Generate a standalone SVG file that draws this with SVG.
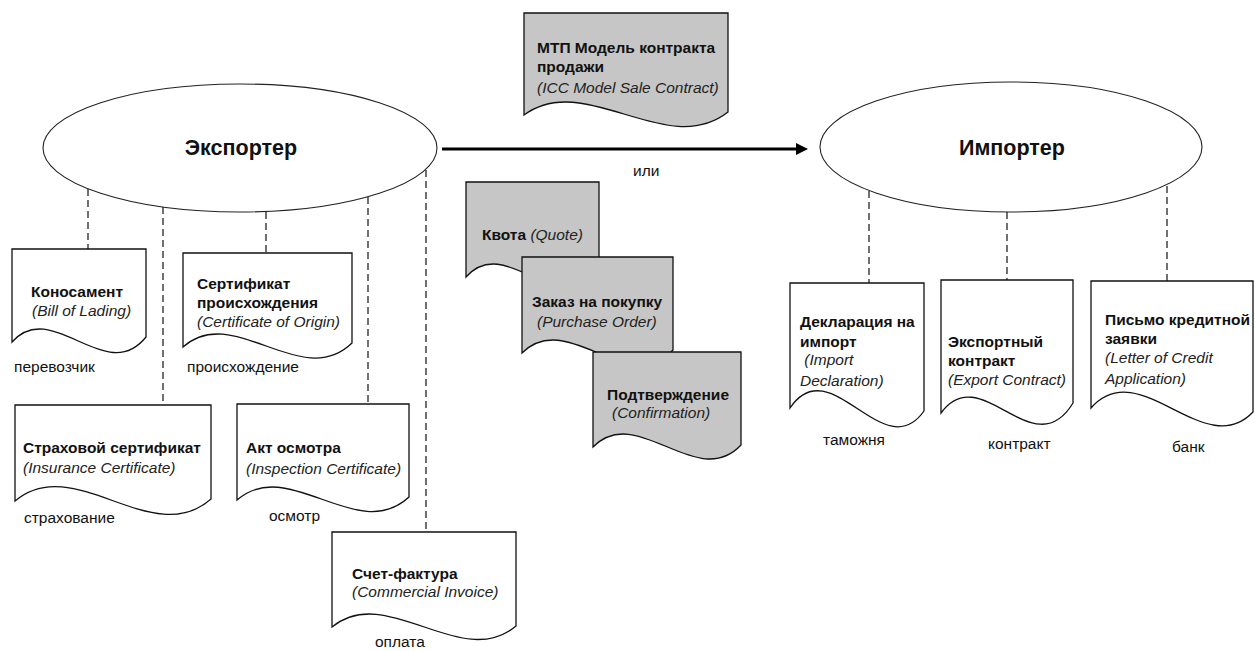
<svg xmlns="http://www.w3.org/2000/svg" width="1255" height="651" viewBox="0 0 1255 651">
<defs>
<marker id="ah" viewBox="0 0 10 10" refX="2" refY="5" markerWidth="4" markerHeight="4" orient="auto" markerUnits="strokeWidth">
<path d="M0,0 L10,5 L0,10 Z" fill="#000"/>
</marker>
<style>
text{font-family:"Liberation Sans",Arial,Helvetica,sans-serif;fill:#111;}
.t{font-size:15.5px;}
.b{font-size:15.5px;font-weight:bold;}
.i{font-size:15.5px;font-style:italic;fill:#222;}
.big{font-size:21.5px;font-weight:bold;text-anchor:middle;}
.doc{fill:#fff;stroke:#111;stroke-width:1.3;}
.gdoc{fill:#c6c6c6;stroke:#111;stroke-width:1.3;}
.ell{fill:#fff;stroke:#222;stroke-width:1.1;}
.dash{stroke:#111;stroke-width:1.2;stroke-dasharray:7,4;fill:none;}
</style>
</defs>
<rect width="1255" height="651" fill="#fff"/>

<g id="connectors">
<line class="dash" x1="88" y1="189" x2="88" y2="249"/>
<line class="dash" x1="163" y1="207" x2="163" y2="405"/>
<line class="dash" x1="266" y1="212" x2="266" y2="253"/>
<line class="dash" x1="368" y1="197" x2="368" y2="404"/>
<line class="dash" x1="426" y1="170" x2="426" y2="532"/>
<line class="dash" x1="869" y1="191" x2="869" y2="283"/>
<line class="dash" x1="1007" y1="212" x2="1007" y2="280"/>
<line class="dash" x1="1167" y1="186" x2="1167" y2="281"/>
<line x1="442" y1="149" x2="798.4" y2="149" stroke="#000" stroke-width="3" marker-end="url(#ah)"/>
<text class="t" x="633" y="176">или</text>
</g>

<g id="exporter">
<ellipse class="ell" cx="240" cy="148" rx="197" ry="64"/>
<text class="big" x="241" y="155">Экспортер</text>
</g>

<g id="importer">
<ellipse class="ell" cx="1011" cy="147" rx="191" ry="65"/>
<text class="big" x="1012" y="155">Импортер</text>
</g>

<g id="icc">
<path class="gdoc" d="M524,13 H728 V112 C666.8,160 585.2,70 524,115 Z"/>
<text class="b" x="537" y="53">МТП Модель контракта</text>
<text class="b" x="537" y="72">продажи</text>
<text class="i" x="537" y="93">(ICC Model Sale Contract)</text>
</g>

<g id="quote">
<path class="gdoc" d="M466,182 H599 V274 C559.1,322 505.9,232 466,277 Z"/>
<text x="482" y="240"><tspan class="b">Квота </tspan><tspan class="i">(Quote)</tspan></text>
</g>

<g id="order">
<path class="gdoc" d="M522,257 H673 V350 C627.7,398 567.3,308 522,353 Z"/>
<text class="b" x="532" y="307">Заказ на покупку</text>
<text class="i" x="537" y="327">(Purchase Order)</text>
</g>

<g id="confirmation">
<path class="gdoc" d="M593,352 H741 V445 C696.6,492 637.4,402 593,447 Z"/>
<text class="b" x="607" y="400">Подтверждение</text>
<text class="i" x="612" y="418">(Confirmation)</text>
</g>

<g id="bill">
<path class="doc" d="M12,249 H146 V337 C105.8,387 52.2,297 12,342 Z"/>
<text class="b" x="31" y="297">Коносамент</text>
<text class="i" x="32" y="316">(Bill of Lading)</text>
<text class="t" x="14" y="372">перевозчик</text>
</g>

<g id="origin">
<path class="doc" d="M183,253 H352 V343 C301.3,392 233.7,302 183,347 Z"/>
<text class="b" x="197" y="289">Сертификат</text>
<text class="b" x="197" y="308">происхождения</text>
<text class="i" x="197" y="327">(Certificate of Origin)</text>
<text class="t" x="187" y="372">происхождение</text>
</g>

<g id="insurance">
<path class="doc" d="M15,405 H211 V499 C152.2,551 73.8,451 15,501 Z"/>
<text class="b" x="23" y="453">Страховой сертификат</text>
<text class="i" x="23" y="473">(Insurance Certificate)</text>
<text class="t" x="24" y="523">страхование</text>
</g>

<g id="inspection">
<path class="doc" d="M237,404 H409 V497 C357.4,545 288.6,455 237,500 Z"/>
<text class="b" x="246" y="453">Акт осмотра</text>
<text class="i" x="246" y="474">(Inspection Certificate)</text>
<text class="t" x="269" y="521">осмотр</text>
</g>

<g id="invoice">
<path class="doc" d="M332,532 H516 V626 C460.8,672 387.2,582 332,627 Z"/>
<text class="b" x="352" y="579">Счет-фактура</text>
<text class="i" x="352" y="597">(Commercial Invoice)</text>
<text class="t" x="375" y="647">оплата</text>
</g>

<g id="declaration">
<path class="doc" d="M790,283 H924 V411 C883.8,468 830.2,348 790,408 Z"/>
<text class="b" x="800" y="327">Декларация на</text>
<text class="b" x="800" y="347">импорт</text>
<text class="i" x="800" y="365" xml:space="preserve"> (Import</text>
<text class="i" x="800" y="386">Declaration)</text>
<text class="t" x="823" y="445">таможня</text>
</g>

<g id="export-contract">
<path class="doc" d="M941,280 H1073 V403 C1033.4,468 980.6,358 941,413 Z"/>
<text class="b" x="948" y="347">Экспортный</text>
<text class="b" x="948" y="366">контракт</text>
<text class="i" x="948" y="385">(Export Contract)</text>
<text class="t" x="988" y="449">контракт</text>
</g>

<g id="letter-of-credit">
<path class="doc" d="M1091,281 H1253 V412 C1204.4,463 1139.6,353 1091,408 Z"/>
<text class="b" x="1105" y="325">Письмо кредитной</text>
<text class="b" x="1105" y="344">заявки</text>
<text class="i" x="1105" y="363">(Letter of Credit</text>
<text class="i" x="1105" y="384">Application)</text>
<text class="t" x="1172" y="452">банк</text>
</g>
</svg>
